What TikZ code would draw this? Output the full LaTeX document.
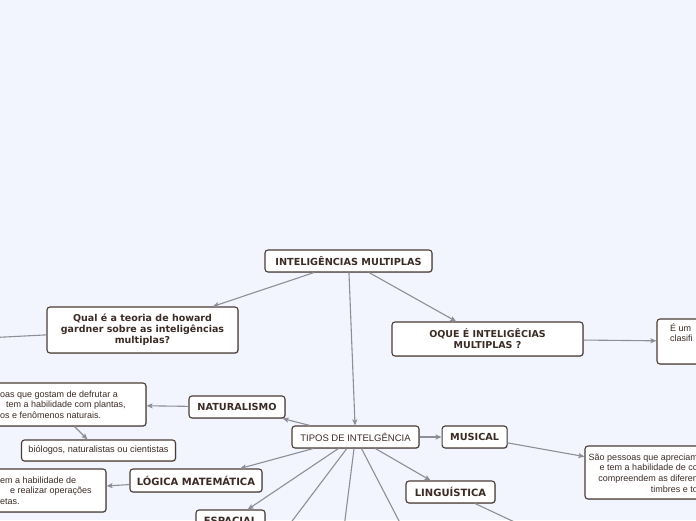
\documentclass[tikz,border=0pt]{standalone}
\usepackage{fontspec}
\setmainfont{Liberation Sans}
\newfontfamily\mmHead{DejaVu Sans}
\usetikzlibrary{arrows.meta,positioning,shadows}
\definecolor{mmBg}{HTML}{F2F5FD}
\definecolor{mmBorder}{HTML}{4A3B35}
\definecolor{mmInk}{HTML}{3B2B25}
\definecolor{mmLine}{HTML}{8D8F98}
\tikzset{
  % Bold topic box
  topic/.style={rectangle,rounded corners=3pt,
    draw=mmBorder,fill=white,line width=1.1pt,
    drop shadow={shadow xshift=.8pt,shadow yshift=-.8pt,opacity=.35},
    align=center,inner sep=0pt,text=mmInk,
    font=\mmHead\bfseries\fontsize{9.7}{11}\selectfont},
  % Bold topic, several lines
  subtopic/.style={topic,font=\mmHead\bfseries\fontsize{9.5}{11}\selectfont},
  % Larger bold topic
  bigtopic/.style={topic,font=\mmHead\bfseries\fontsize{10}{12}\selectfont},
  % Plain box
  plainbox/.style={topic,font=\fontsize{9.2}{11}\selectfont},
  % Description text
  desc/.style={inner sep=0pt,text=mmInk,font=\fontsize{9}{10.6}\selectfont},
  % Arrows
  arr/.style={-{Stealth[length=6pt,width=5pt,inset=1.2pt]},
    line width=1.1pt,color=mmLine},
}

\begin{document}
\begin{tikzpicture}[x=1pt,y=-1pt]
  \useasboundingbox (0,0) rectangle (696,520);
  \fill[mmBg] (0,0) rectangle (696,520);

  % Main topic and first level
  \node[topic,minimum width=167pt,minimum height=22pt] (root) at (348.5,261)
    {INTELIGÊNCIAS MULTIPLAS};
  \node[subtopic,minimum width=191pt,minimum height=46pt] (theory) at (142.5,330)
    {Qual é a teoria de howard\\gardner sobre as inteligências\\multiplas?};
  \node[subtopic,minimum width=191pt,minimum height=34pt] (whatis) at (487.5,339)
    {OQUE É INTELIGÊCIAS\\MULTIPLAS ?};
  \node[plainbox,font=\fontsize{9.5}{11}\selectfont,minimum width=127pt,minimum height=22pt]
    (types) at (355.5,437) {TIPOS DE INTELGÊNCIA};

  % Types
  \node[topic,minimum width=96pt,minimum height=22pt] (natur) at (237,407) {NATURALISMO};
  \node[topic,right=22pt of types,minimum width=65pt,minimum height=22pt] (music) {MUSICAL};
  \node[bigtopic,minimum width=132pt,minimum height=23pt] (logic) at (196,480.5)
    {LÓGICA MATEMÁTICA};
  \node[bigtopic,minimum width=69pt,minimum height=22pt] (space) at (230.5,521) {ESPACIAL};
  \node[bigtopic,minimum width=89pt,minimum height=22pt] (lang) at (450.5,492) {LINGUÍSTICA};

  % Descriptions (cut by the frame)
  \node[plainbox,minimum width=126pt,minimum height=45pt] (whatdesc) at (720,341.5) {};
  \node[desc,anchor=north west,align=left] (whattext) at (670,323) {É um\\clasifi};
  \node[plainbox,minimum width=187pt,minimum height=43pt] (naturdesc) at (52.5,404.5) {};
  \node[desc,anchor=west,align=left] (naturtext) at (0,404.5)
    {oas que gostam de defrutar a\\\hspace*{6pt}tem a habilidade com plantas,\\os e fenômenos naturais.};
  \node[plainbox,minimum width=154pt,minimum height=21pt] (bio) at (98.5,450.5)
    {biólogos, naturalistas ou cientistas};
  \node[plainbox,minimum width=148pt,minimum height=43pt] (logicdesc) at (32,490.5) {};
  \node[desc,anchor=west,align=left] (logictext) at (0,490.5)
    {em a habilidade de\\\hspace*{10pt}e realizar operações\\etas.};
  \node[plainbox,minimum width=178pt,minimum height=53pt] (musdesc) at (674,472.5) {};
  \node[desc,anchor=east,align=right] (mustext) at (698,473)
    {São pessoas que apreciam\\e tem a habilidade de co\\compreendem as diferen\\timbres e to};

  % Off-frame ends
  \coordinate (theoryout) at (-60,340.3);
  \coordinate (typesoutA) at (274,545);
  \coordinate (typesoutB) at (341.8,545);
  \coordinate (typesoutC) at (411.5,545);
  \coordinate (langout) at (555,541);

  \draw[arr] (root) -- (theory);
  \draw[arr] (root) -- (whatis);
  \draw[arr] (root) -- (types);
  \draw[arr] (whatis) -- (whatdesc);
  \draw[arr] (theory) -- (theoryout);
  \draw[arr] (types) -- (natur);
  \draw[arr] (natur) -- (naturdesc);
  \draw[arr] (naturdesc) -- (bio);
  \draw[arr] (types) -- (music);
  \draw[arr] (music) -- (musdesc);
  \draw[arr] (types) -- (logic);
  \draw[arr] (logic) -- (logicdesc);
  \draw[arr] (types) -- (space);
  \draw[arr] (types) -- (lang);
  \draw[arr] (types) -- (typesoutA);
  \draw[arr] (types) -- (typesoutB);
  \draw[arr] (types) -- (typesoutC);
  \draw[arr] (lang) -- (langout);
\end{tikzpicture}
\end{document}
